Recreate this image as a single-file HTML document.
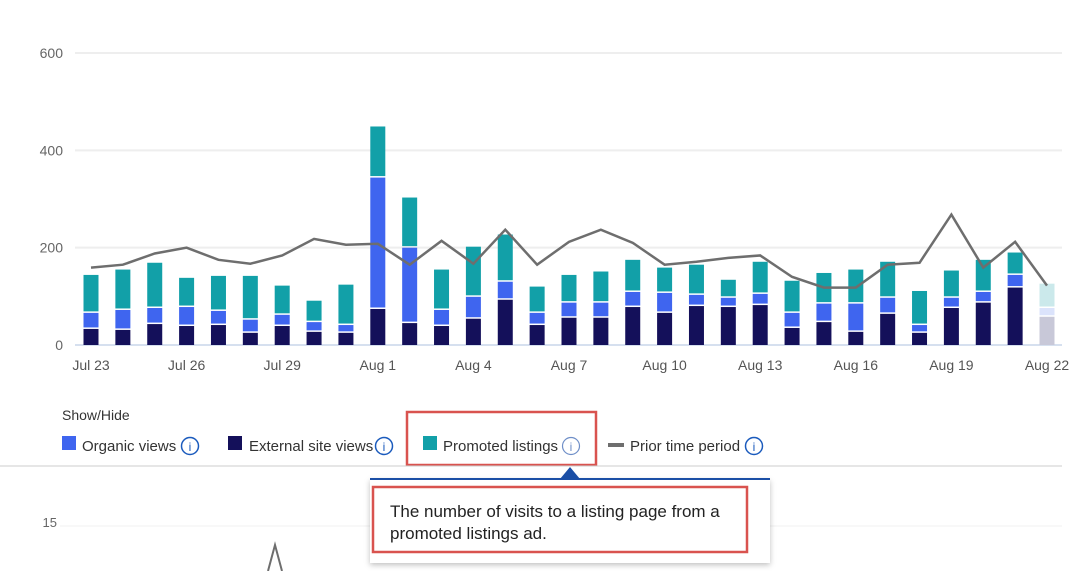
<!DOCTYPE html>
<html><head><meta charset="utf-8"><style>
body{margin:0;background:#fff;font-family:"Liberation Sans",sans-serif}
svg text{font-family:"Liberation Sans",sans-serif}
</style></head><body>
<svg id="c" width="1072" height="571" xmlns="http://www.w3.org/2000/svg">
<g id="grid"></g><g id="bars"></g><g id="line"></g><g id="xt"></g>
<text x="62" y="420" font-size="14" fill="#333">Show/Hide</text>
<g><rect x="62" y="436" width="14" height="14" fill="#3f65ef"/><text x="82" y="451" font-size="15" fill="#333">Organic views</text><circle cx="190" cy="446" r="8.5" fill="none" stroke="#1b5bbd" stroke-width="1.5"/><text x="190" y="451" font-size="12" fill="#1b5bbd" text-anchor="middle">i</text></g>
<g><rect x="228" y="436" width="14" height="14" fill="#14105a"/><text x="249" y="451" font-size="15" fill="#333">External site views</text><circle cx="384" cy="446" r="8.5" fill="none" stroke="#1b5bbd" stroke-width="1.5"/><text x="384" y="451" font-size="12" fill="#1b5bbd" text-anchor="middle">i</text></g>
<g><rect x="423" y="436" width="14" height="14" fill="#12a0a8"/><text x="443" y="451" font-size="15" fill="#333">Promoted listings</text><circle cx="571" cy="446" r="8.5" fill="none" stroke="#6f8fc8" stroke-width="1.2"/><text x="571" y="451" font-size="12" fill="#6f8fc8" text-anchor="middle">i</text></g>
<g><rect x="608" y="443" width="16" height="4" fill="#6e6e6e"/><text x="630" y="451" font-size="15" fill="#333">Prior time period</text><circle cx="754" cy="446" r="8.5" fill="none" stroke="#1b5bbd" stroke-width="1.5"/><text x="754" y="451" font-size="12" fill="#1b5bbd" text-anchor="middle">i</text></g>
<rect x="407" y="412" width="189" height="53" fill="none" stroke="#d9534f" stroke-width="2.5"/>
<line x1="0" y1="466" x2="1062" y2="466" stroke="#ccc"/>
<text x="57" y="527" font-size="13" fill="#666" text-anchor="end">15</text>
<line x1="60" y1="526" x2="1062" y2="526" stroke="#f0f0f0"/>
<polyline points="268,571 275,545 282,571" fill="none" stroke="#6e6e6e" stroke-width="2"/>
<g>
<rect x="370" y="479" width="400" height="84" fill="#fff" style="filter:drop-shadow(0 2px 3px rgba(0,0,0,.25))"/>
<rect x="370" y="478" width="400" height="2" fill="#1b4fa6"/>
<polygon points="560,479 570,467 580,479" fill="#1b4fa6"/>
<rect x="373" y="487" width="374" height="65" fill="none" stroke="#d9534f" stroke-width="2.5"/>
<text x="390" y="517" font-size="17" fill="#222">The number of visits to a listing page from a</text>
<text x="390" y="539" font-size="17" fill="#222">promoted listings ad.</text>
</g>
</svg>
<script>
const categories=["Jul 23","Jul 24","Jul 25","Jul 26","Jul 27","Jul 28","Jul 29","Jul 30","Jul 31","Aug 1","Aug 2","Aug 3","Aug 4","Aug 5","Aug 6","Aug 7","Aug 8","Aug 9","Aug 10","Aug 11","Aug 12","Aug 13","Aug 14","Aug 15","Aug 16","Aug 17","Aug 18","Aug 19","Aug 20","Aug 21","Aug 22"];
const externalViews=[33,31,43,39,41,25,39,27,25,74,45,39,54,93,41,56,56,78,66,80,78,82,35,47,27,64,25,76,87,118,58];
const organicViews=[33,41,33,39,29,27,23,20,16,270,155,33,45,37,25,31,31,31,41,23,19,23,31,38,58,33,16,21,22,26,18];
const promotedViews=[78,83,93,60,72,90,60,44,83,105,103,83,103,97,54,57,64,66,52,62,37,66,66,63,70,74,70,56,66,46,50];
const priorPeriod=[159,165,188,200,175,167,184,218,206,208,165,214,167,237,165,212,237,210,165,171,179,184,140,118,118,165,169,268,159,212,122];
const yTicks=[0,200,400,600];
const xTickLabels=["Jul 23","Jul 26","Jul 29","Aug 1","Aug 4","Aug 7","Aug 10","Aug 13","Aug 16","Aug 19","Aug 22"];
const NS="http://www.w3.org/2000/svg";
const x=i=>91+i*(1047-91)/(categories.length-1);
const y=v=>345-v*(345-53)/600;
function mk(p,t,a){const e=document.createElementNS(NS,t);for(const k in a)e.setAttribute(k,a[k]);document.getElementById(p).appendChild(e);return e;}
yTicks.forEach(v=>{
 const l=mk("grid","line",{x1:75,x2:1062,y1:y(v),y2:y(v),stroke:v===0?"#c9d6ea":"#eeeeee","stroke-width":v===0?1.5:2});
 
 
 const t=mk("grid","text",{x:63,y:y(v)+5,"font-size":14,fill:"#666","text-anchor":"end"});t.textContent=v;
 
 
});
categories.forEach((c,i)=>{
 const last=i===categories.length-1;
 const segs=[[externalViews[i],last?"#c8c8d8":"#14105a"],[organicViews[i],last?"#dbe3fb":"#3f65ef"],[promotedViews[i],last?"#cbe9eb":"#12a0a8"]];
 let base=0;
 segs.forEach((s,j)=>{
  const top=base+s[0];
  const r=mk("bars","rect",{x:x(i)-7.5,width:15,y:y(top)+(j>0?0:0),height:Math.max(0,y(base)-y(top)-(j>0?1.5:0)),fill:s[1]});
  
  
  base=top;
 });
});
const pl=mk("line","polyline",{points:priorPeriod.map((v,i)=>x(i)+","+y(v)).join(" "),fill:"none",stroke:"#6e6e6e","stroke-width":2.5});


xTickLabels.forEach(lbl=>{
 const i=categories.indexOf(lbl);
 const t=mk("xt","text",{x:x(i),y:370,"font-size":14,fill:"#555","text-anchor":"middle"});t.textContent=lbl;
 
 
});
</script>
</body></html>
